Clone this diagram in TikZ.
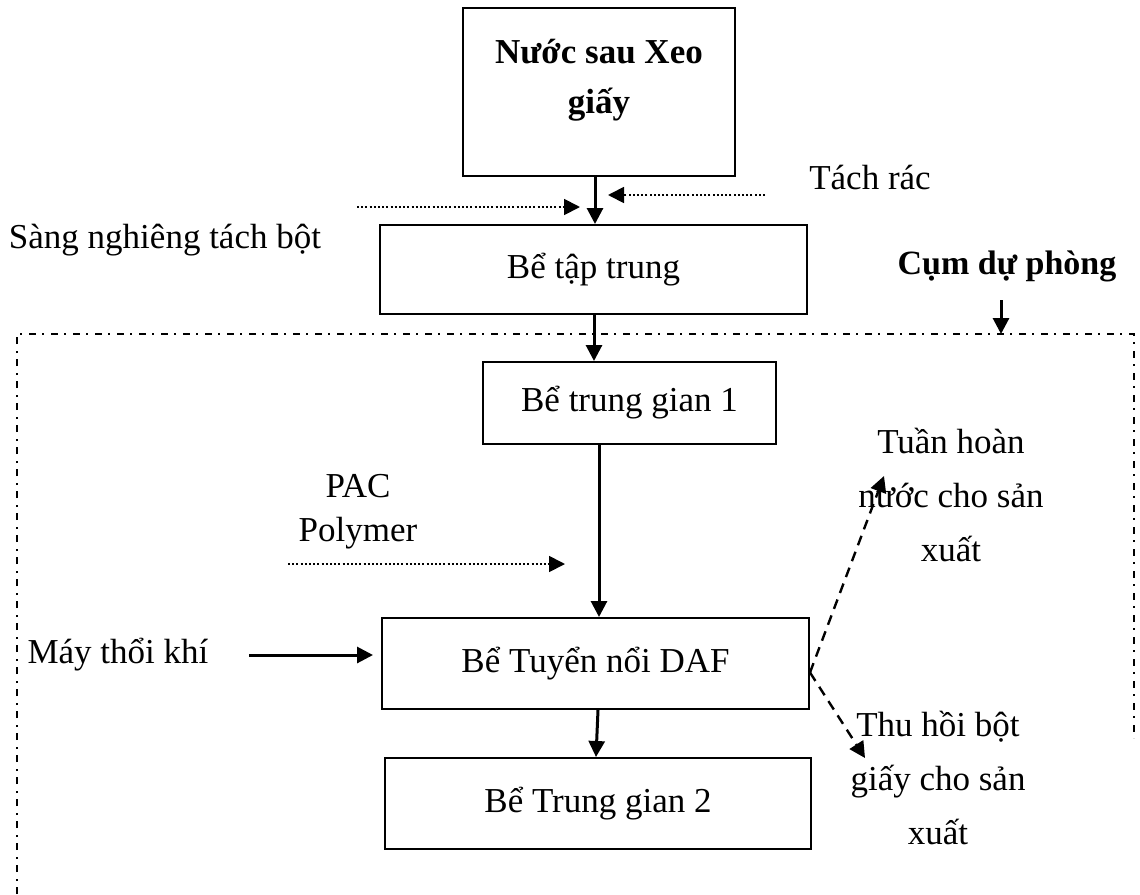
\documentclass[tikz,border=0pt]{standalone}
\usepackage{fontspec}
\setmainfont{Liberation Serif}
\usetikzlibrary{arrows.meta,calc}
\begin{document}
\begin{tikzpicture}[x=1pt,y=-1pt,
  every node/.style={font=\fontsize{35}{54}\selectfont, inner sep=0pt},
  lbl/.style={align=center},
  box/.style={draw, line width=2pt, rectangle, align=center},
  tip/.style={-{Triangle[length=16pt,width=16pt]}},
  flow/.style={tip, line width=3pt},
  feed/.style={tip, line width=1.8pt, dash pattern=on 2pt off 2.2pt},
  outflow/.style={tip, line width=2.4pt, dash pattern=on 10pt off 7pt},
  frame/.style={line width=2pt, dash pattern=on 7pt off 6pt on 2pt off 7pt}]
\useasboundingbox (0,0) rectangle (1140,894);

% process tanks
\node[box, minimum width=272pt, minimum height=168pt] (src) at (599,92) {};
\node[lbl, font=\fontsize{35}{50}\selectfont\bfseries] (srct) at (599,80) {Nước sau Xeo\\giấy};
\node[box, minimum width=427pt, minimum height=89pt] (tap) at (593.5,269.5) {Bể tập trung};
\node[box, minimum width=293pt, minimum height=82pt] (tg1) at (629.5,403) {Bể trung gian 1};
\node[box, minimum width=427pt, minimum height=91pt] (daf) at (595.5,663.5) {Bể Tuyển nổi DAF};
\node[box, minimum width=426pt, minimum height=91pt] (tg2) at (598,803.5) {Bể Trung gian 2};

% side labels
\node[lbl] (rac) at (870,178) {Tách rác};
\node[lbl] (sang) at (165,240) {Sàng nghiêng tách bột};
\node[lbl, font=\fontsize{34}{54}\selectfont\bfseries] (cum) at (1007,266) {Cụm dự phòng};
\node[lbl, font=\fontsize{35}{44}\selectfont] (pac) at (358,512) {PAC\\Polymer};
\node[lbl] (khi) at (118,655) {Máy thổi khí};
\node[lbl] (tuan) at (951,495) {Tuần hoàn\\nước cho sản\\xuất};
\node[lbl] (thu) at (938,778) {Thu hồi bột\\giấy cho sản\\xuất};

% standby group frame
\coordinate (fl) at (17,894);
\coordinate (ftl) at (17,334);
\coordinate (ftr) at (1134,334);
\coordinate (fr) at (1134,738);
\draw[frame] (fl) -- (ftl) -- (ftr) -- (fr);

% main flow
\draw[flow] ([xshift=-4pt]src.south) -- ([xshift=1.5pt]tap.north);
\draw[flow] ([xshift=0.5pt]tap.south) -- ([xshift=-35.5pt]tg1.north);
\draw[flow] ([xshift=-30.5pt]tg1.south) -- ([xshift=3.5pt]daf.north);
\draw[flow] ([xshift=2.5pt]daf.south) -- ([xshift=-2pt]tg2.north);

% inputs
\coordinate (k0) at (249,655);
\draw[flow, shorten >=8pt] (k0) -- (daf.west |- k0);
\coordinate (c0) at (1001,300);
\coordinate (c1) at (1001,334);
\draw[flow] (c0) -- (c1);
\coordinate (s0) at (357,207);
\coordinate (s1) at (580,207);
\draw[feed] (s0) -- (s1);
\coordinate (r0) at (765,195);
\coordinate (r1) at (608,195);
\draw[feed] (r0) -- (r1);
\coordinate (p0) at (288,564);
\coordinate (p1) at (565,564);
\draw[feed] (p0) -- (p1);

% outputs
\coordinate (o1) at (884,476);
\coordinate (o2) at (865,758);
\draw[outflow] ([yshift=-9pt]daf.east) -- (o1);
\draw[outflow] ([yshift=-9pt]daf.east) -- (o2);
\end{tikzpicture}
\end{document}
